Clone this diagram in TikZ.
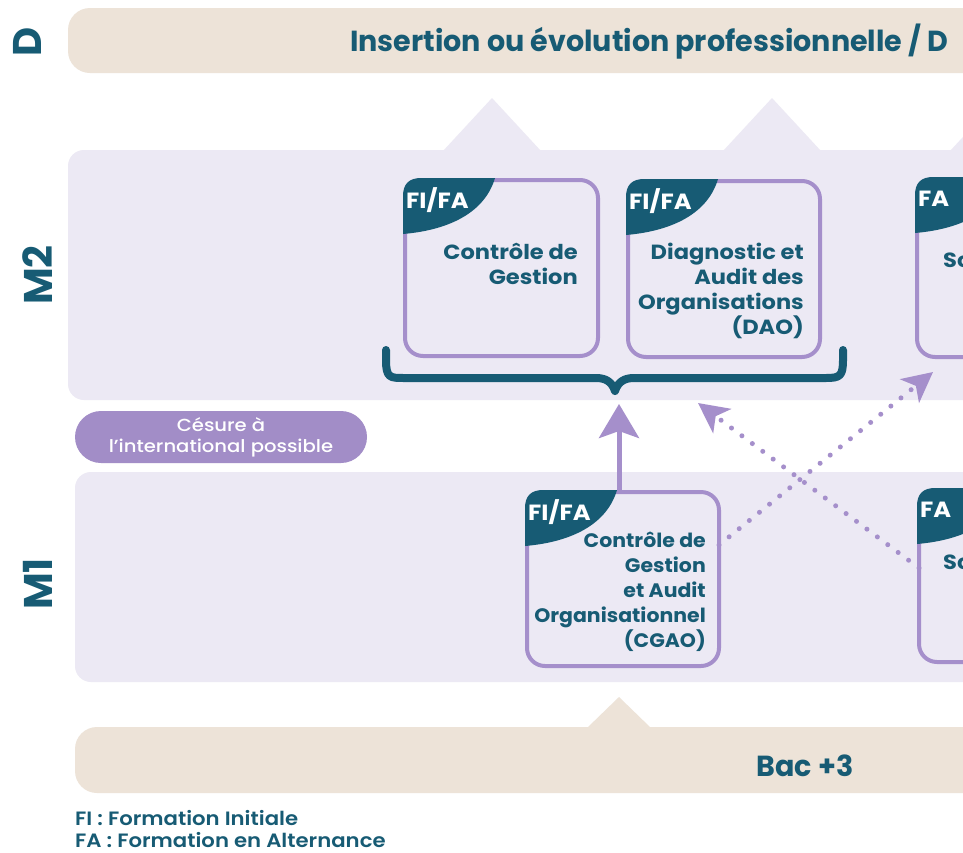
\documentclass[tikz,border=0pt]{standalone}
\usepackage{fontspec}
\setmainfont{Poppins}
\newfontfamily\bigf{Poppins}[FakeStretch=0.985]
\newfontfamily\wideA{Poppins}[FakeStretch=1.1]
\newfontfamily\wideB{Poppins}[FakeStretch=1.05]
\newfontfamily\pmed{Poppins Medium}[FakeStretch=1.12]
\newfontfamily\psemi{Poppins SemiBold}[FakeStretch=1.1]
\usetikzlibrary{arrows.meta,calc}
\definecolor{dteal}{HTML}{175B74}
\definecolor{lav}{HTML}{A58FCB}
\definecolor{panel}{HTML}{ECE9F4}
\definecolor{beige}{HTML}{EDE3D8}
\definecolor{cesure}{HTML}{A28DC7}
\newcommand\mytab[3]{%
  \fill[dteal] ($(#1.north west)+(-2,54)$) -- ($(#1.north west)+(-2,16)$)
    .. controls ($(#1.north west)+(-2,4)$) and ($(#1.north west)+(4,-2)$) .. ($(#1.north west)+(16,-2)$)
    -- ($(#1.north west)+(90,-2)$)
    .. controls ($(#1.north west)+(80,32)$) and ($(#1.north west)+(45,50)$) .. ($(#1.north west)+(-2,54)$) -- cycle;
  \node[tabtxt] (#3) at ($(#1.north west)+(1,20)$) {#2};}
\begin{document}
\begin{tikzpicture}[x=1pt,y=-1pt,
  progbox/.style={draw=lav, line width=4pt, rounded corners=18pt, outer sep=0pt, inner sep=0pt},
  tabtxt/.style={anchor=west, text=white, inner sep=0pt, font=\wideA\bfseries\fontsize{22}{24}\selectfont},
  boxtxt/.style={anchor=north east, align=right, text=dteal, inner sep=0pt, font=\wideA\bfseries\fontsize{20.5}{25}\selectfont},
  boxtxtb/.style={anchor=north east, align=right, text=dteal, inner sep=0pt, font=\wideB\bfseries\fontsize{19.5}{25}\selectfont},
  rotlab/.style={rotate=90, text=dteal, inner sep=0pt, font=\bfseries\fontsize{40}{40}\selectfont},
  bigtxt/.style={text=dteal, inner sep=0pt, font=\bigf\bfseries\fontsize{29}{30}\selectfont},
  legend/.style={anchor=base west, text=dteal, inner sep=0pt, font=\psemi\fontsize{19.3}{22}\selectfont},
  solidarr/.style={draw=lav, line width=5pt, -{Stealth[length=34pt,width=40pt,inset=7pt]}},
  dotarr/.style={draw=lav, line width=5pt, line cap=round, dash pattern=on 0pt off 13pt, -{Stealth[length=30pt,width=30pt,inset=8pt]}}
]
\useasboundingbox (0,0) rectangle (963,852);
\fill[white] (0,0) rectangle (963,852);
\clip (0,0) rectangle (963,852);

% top banner
\fill[beige, rounded corners=22pt] (68,8) rectangle (1200,73);
\node[bigtxt, anchor=base west] (dtitle) at (350,51) {Insertion ou évolution professionnelle / D};
\node[rotlab] (dlab) at (27,42) {D};

% triangles
\fill[panel] (443,151) -- (492,98) -- (541,151) -- cycle;
\fill[panel] (723,151) -- (772,98) -- (821,151) -- cycle;
\fill[panel] (950,151) -- (999,98) -- (1048,151) -- cycle;

% M2 panel
\fill[panel, rounded corners=16pt] (68,150) rectangle (1200,400);
\node[rotlab] (m2) at (38,275) {M2};

% M1 panel
\fill[panel, rounded corners=16pt] (75,472) rectangle (1200,682);
\node[rotlab] (m1) at (38,584) {M1};

% Bac+3 banner
\fill[beige] (587,728) -- (619,697) -- (651,728) -- cycle;
\fill[beige, rounded corners=22pt] (75,727) rectangle (1200,793);
\node[bigtxt] (bac) at (805,766) {Bac +3};

% Cesure pill
\node[fill=cesure, rounded corners=26pt, minimum width=292pt, minimum height=52pt, text=white, align=center, inner sep=0pt,
  font=\pmed\fontsize{17.5}{21}\selectfont] (ces) at (221,437) {Césure à\\l’international possible};

% M2 boxes
\node[progbox, minimum width=193pt, minimum height=176pt] (cg) at (501.5,268) {};
\mytab{cg}{FI/FA}{cgtab}
\node[boxtxt] (cgt) at (578,243) {Contrôle de\\Gestion};

\node[progbox, minimum width=192pt, minimum height=176pt] (dao) at (724,269) {};
\mytab{dao}{FI/FA}{daotab}
\node[boxtxt] (daot) at (804,243) {Diagnostic et\\Audit des\\Organisations\\(DAO)};

\node[progbox, minimum width=200pt, minimum height=178pt] (sc2) at (1017,268) {};
\mytab{sc2}{FA}{sc2tab}
\node[boxtxt, anchor=north west] (sc2t) at (943,253) {Sc};

% brace
\draw[dteal, line width=8pt, line cap=round, line join=round]
  (386,350) -- (386,360) .. controls (386,378) and (390,378) .. (404,378) -- (596,378)
  .. controls (606,378) and (612,382) .. (615,391) .. controls (618,382) and (624,378) .. (634,378)
  -- (826,378) .. controls (840,378) and (843,376) .. (843,360) -- (843,350);

% M1 boxes
\node[progbox, minimum width=192pt, minimum height=174pt] (cgao) at (623,579) {};
\mytab{cgao}{FI/FA}{cgaotab}
\node[boxtxtb] (cgaot) at (706,532) {Contrôle de\\Gestion\\et Audit\\Organisationnel\\(CGAO)};

\node[progbox, minimum width=200pt, minimum height=172pt] (sc1) at (1019,576) {};
\mytab{sc1}{FA}{sc1tab}
\node[boxtxt, anchor=north west] (sc1t) at (943,555) {Sc};

% arrows
\coordinate (bt) at (619,404);
\coordinate (t1) at (933,372);
\coordinate (t2) at (698,403);
\draw[solidarr] ([xshift=-4pt]cgao.north) -- (bt);
\draw[dotarr] ([yshift=34pt]cgao.east) -- (t1);
\draw[dotarr] ([yshift=8pt]sc1.west) -- (t2);

% legend
\node[legend] (l1) at (75,825) {FI : Formation Initiale};
\node[legend] (l2) at (75,847) {FA : Formation en Alternance};
\end{tikzpicture}
\end{document}
